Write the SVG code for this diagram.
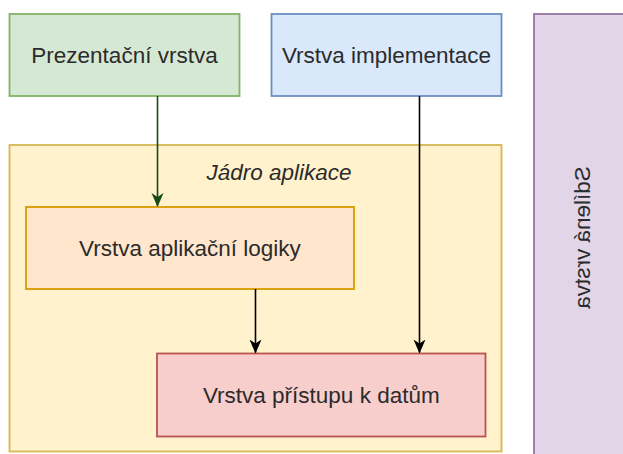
<svg xmlns="http://www.w3.org/2000/svg" width="623" height="454" viewBox="0 0 623 454">
<defs>
<style>
.lbl{font-family:"Liberation Sans",Arial,sans-serif;font-size:22.5px;fill:#2b2b2b;text-anchor:middle}
.box{stroke-width:1.8}
.edge{fill:none;stroke-width:1.6}
</style>
<marker id="ah" viewBox="0 0 14 14" refX="13" refY="7" markerWidth="14" markerHeight="14" markerUnits="userSpaceOnUse" orient="auto">
<path d="M0,1 L14,7 L0,13 L4,7 Z" fill="context-stroke"/>
</marker>
<marker id="ahg" viewBox="0 0 14 14" refX="13" refY="7" markerWidth="14" markerHeight="14" markerUnits="userSpaceOnUse" orient="auto">
<path d="M0,1 L14,7 L0,13 L4,7 Z" fill="#174a17"/>
</marker>
<marker id="ahk" viewBox="0 0 14 14" refX="13" refY="7" markerWidth="14" markerHeight="14" markerUnits="userSpaceOnUse" orient="auto">
<path d="M0,1 L14,7 L0,13 L4,7 Z" fill="#000"/>
</marker>
</defs>
<rect width="623" height="454" fill="#ffffff"/>
<g id="sdilena">
<rect class="box" x="534" y="14" width="110" height="450" fill="#e1d5e7" stroke="#9673a6"/>
<text class="lbl" transform="translate(581.5,237.5) rotate(90) scale(1,-1)" y="8">Sdílená vrstva</text>
</g>
<g id="jadro">
<rect class="box" x="9.5" y="145" width="492" height="306.5" fill="#fff2cc" stroke="#d6b656"/>
<text class="lbl" x="279" y="180" font-style="italic">Jádro aplikace</text>
</g>
<g id="prezentacni">
<rect class="box" x="9.5" y="14" width="230" height="82" fill="#d5e8d4" stroke="#82b366"/>
<text class="lbl" x="124.5" y="63">Prezentační vrstva</text>
</g>
<g id="implementace">
<rect class="box" x="271.5" y="14" width="230" height="82" fill="#dae8fc" stroke="#6c8ebf"/>
<text class="lbl" x="386.5" y="63">Vrstva implementace</text>
</g>
<g id="logika">
<rect class="box" x="26" y="207" width="328" height="82" fill="#ffe6cc" stroke="#d79b00"/>
<text class="lbl" x="190" y="256">Vrstva aplikační logiky</text>
</g>
<g id="data">
<rect class="box" x="157" y="353.5" width="328.5" height="83" fill="#f8cecc" stroke="#b85450"/>
<text class="lbl" x="321.3" y="403">Vrstva přístupu k datům</text>
</g>
<g id="connectors">
<path class="edge" d="M157.5,96 L157.5,206" stroke="#174a17" marker-end="url(#ahg)"/>
<path class="edge" d="M419.5,96 L419.5,352.5" stroke="#000" marker-end="url(#ahk)"/>
<path class="edge" d="M255.5,289 L255.5,352.5" stroke="#000" marker-end="url(#ahk)"/>
</g>
</svg>
